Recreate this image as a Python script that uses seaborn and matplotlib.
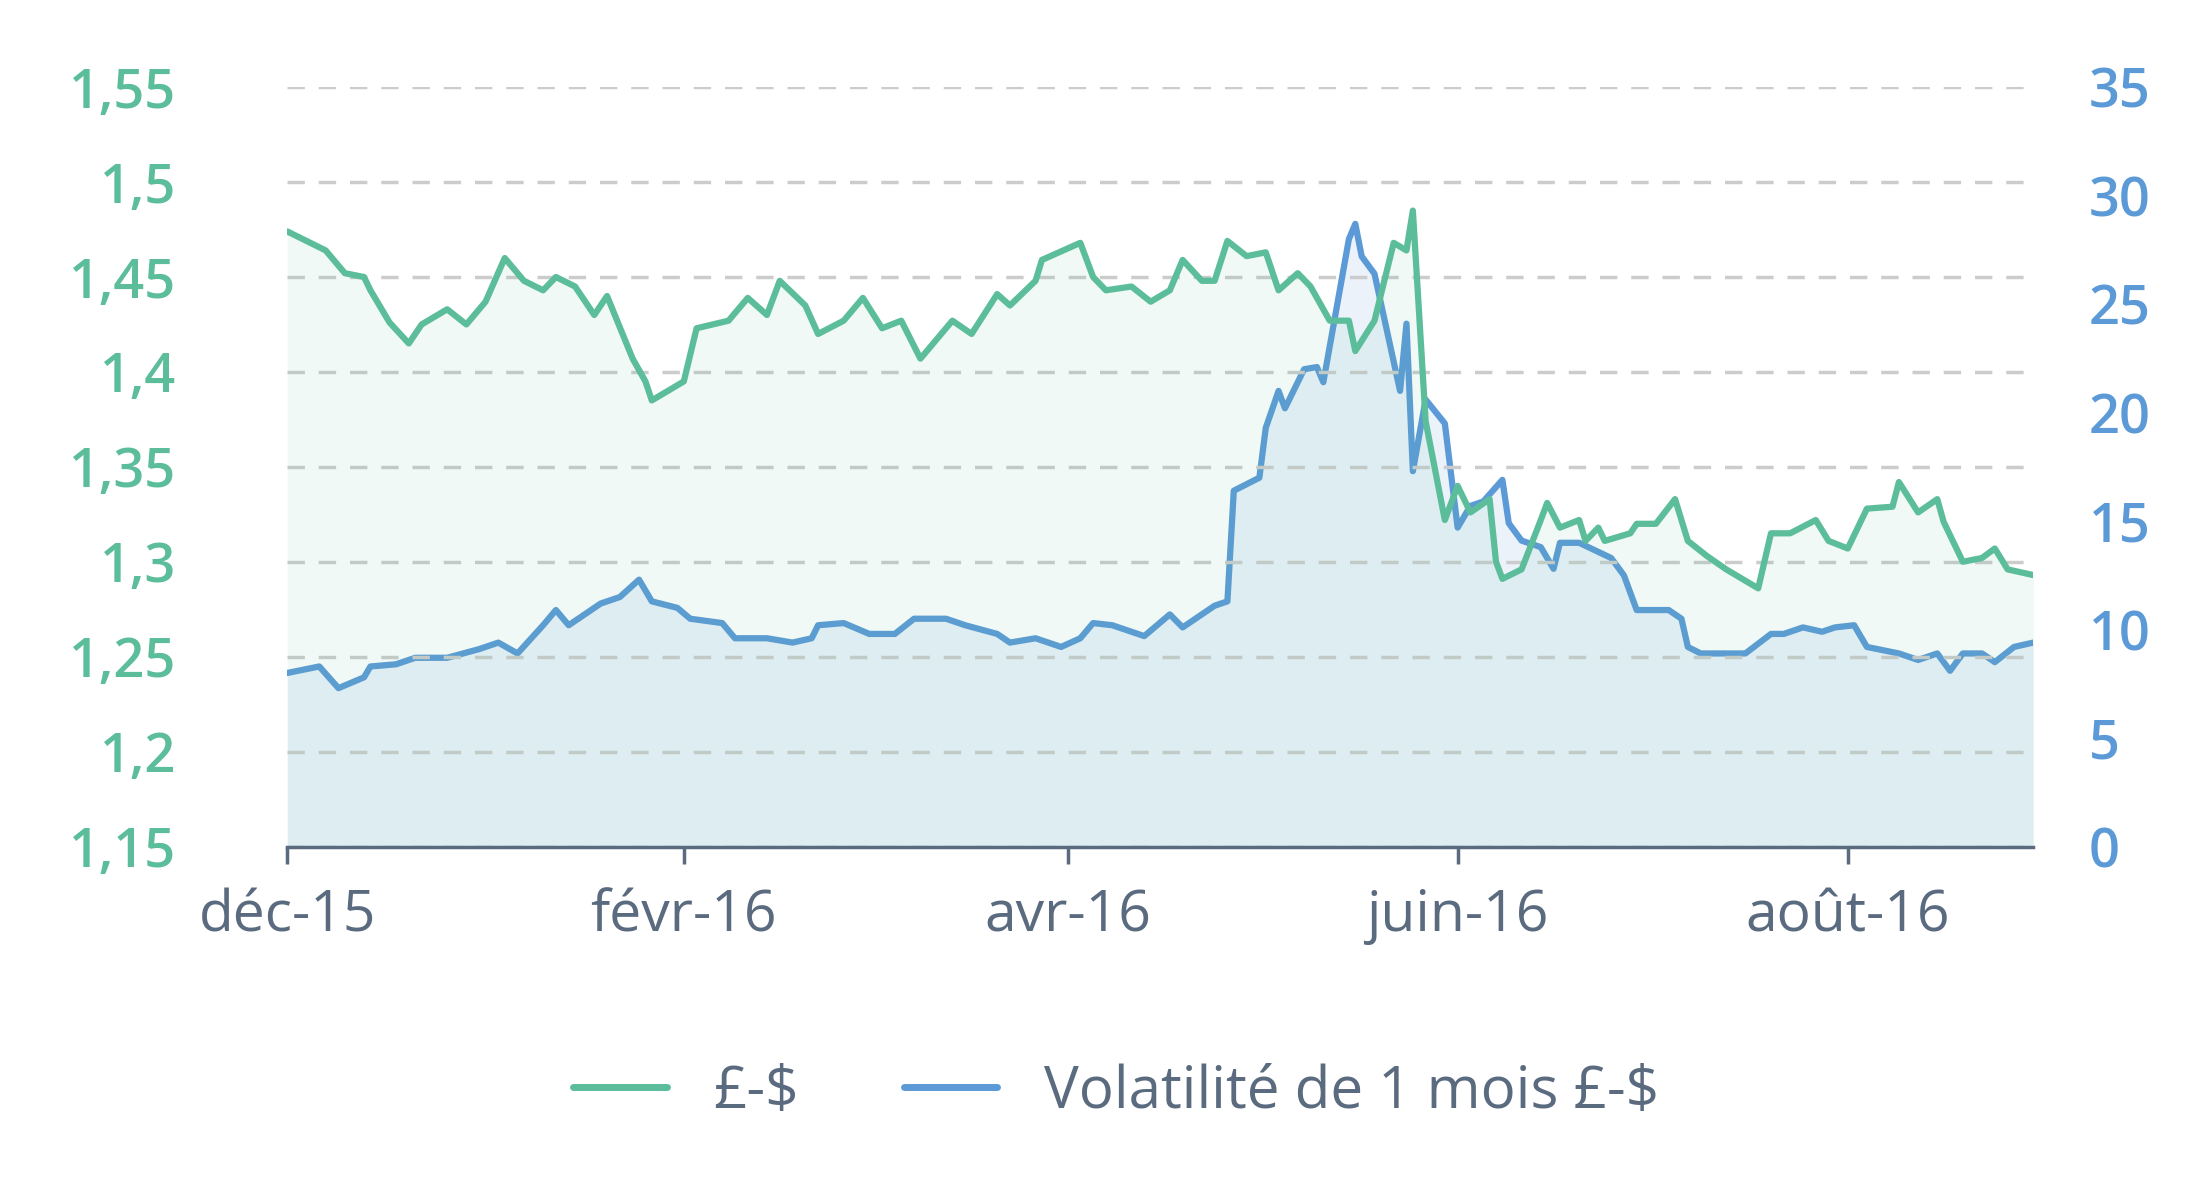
import pandas as pd
import numpy as np
import matplotlib
matplotlib.use("Agg")
import matplotlib.pyplot as plt
import seaborn as sns

start = pd.Timestamp("2015-12-01")
gbp_days = [0,6,9,12,13,16,19,21,25,28,31,34,37,40,42,45,48,50,54,56,57,62,64,69,72,75,77,81,83,87,90,93,96,99,104,107,111,113,117,118,124,126,128,132,135,138,140,143,145,147,150,153,155,158,160,163,166,167,170,173,175,176,178,181,183,185,188,189,190,193,196,197,199,202,203,205,206,210,211,214,217,219,222,225,230,232,235,239,241,244,247,251,252,255,258,259,262,265,267,269,273]
gbp_vals = [1.474,1.464,1.452,1.45,1.443,1.426,1.415,1.425,1.433,1.425,1.437,1.46,1.448,1.443,1.45,1.445,1.43,1.44,1.407,1.395,1.385,1.395,1.423,1.427,1.439,1.43,1.448,1.435,1.42,1.427,1.439,1.423,1.427,1.407,1.427,1.42,1.441,1.435,1.448,1.459,1.468,1.45,1.443,1.445,1.437,1.443,1.459,1.448,1.448,1.469,1.461,1.463,1.443,1.452,1.445,1.427,1.427,1.411,1.427,1.468,1.464,1.485,1.374,1.322,1.34,1.326,1.333,1.300,1.291,1.296,1.322,1.331,1.318,1.322,1.311,1.318,1.311,1.315,1.32,1.32,1.333,1.311,1.303,1.296,1.286,1.315,1.315,1.322,1.311,1.307,1.328,1.329,1.342,1.326,1.333,1.321,1.3,1.302,1.307,1.296,1.293]
vol_days = [0,5,8,12,13,17,20,25,30,33,36,40,42,44,49,52,55,57,61,63,68,70,75,79,82,83,87,91,95,98,103,106,111,113,117,121,124,126,129,134,138,140,145,147,148,152,153,155,156,159,161,162,166,167,168,170,174,175,176,178,181,183,185,187,190,191,193,196,198,199,202,207,209,211,216,218,219,221,228,232,234,237,240,242,245,247,252,255,258,260,262,265,267,270,273]
vol_vals = [8.0,8.3,7.3,7.8,8.3,8.4,8.7,8.7,9.1,9.4,8.9,10.2,10.9,10.2,11.2,11.5,12.3,11.3,11.0,10.5,10.3,9.6,9.6,9.4,9.6,10.2,10.3,9.8,9.8,10.5,10.5,10.2,9.8,9.4,9.6,9.2,9.6,10.3,10.2,9.7,10.7,10.1,11.1,11.3,16.4,17.0,19.3,21.0,20.2,22.0,22.1,21.4,28.0,28.7,27.2,26.4,21.0,24.1,17.3,20.6,19.5,14.7,15.7,15.9,16.9,14.9,14.1,13.8,12.8,14.0,14.0,13.3,12.5,10.9,10.9,10.5,9.2,8.9,8.9,9.8,9.8,10.1,9.9,10.1,10.2,9.2,8.9,8.6,8.9,8.1,8.9,8.9,8.5,9.2,9.4]
x_ticks = ["2015-12-01","2016-02-01","2016-04-01","2016-06-01","2016-08-01"]
x_labels = ["déc-15","févr-16","avr-16","juin-16","août-16"]
left_ticks = [1.15,1.2,1.25,1.3,1.35,1.4,1.45,1.5,1.55]
right_ticks = [0,5,10,15,20,25,30,35]

gbp = pd.DataFrame({"date": start + pd.to_timedelta(gbp_days, unit="D"), "v": gbp_vals})
vol = pd.DataFrame({"date": start + pd.to_timedelta(vol_days, unit="D"), "v": vol_vals})

sns.set_style("white")
plt.rcParams["font.family"] = ["Open Sans", "DejaVu Sans"]
GREEN = "#5cbd9b"; BLUE = "#5b9ad6"; TXT = "#5a6b80"

fig = plt.figure(figsize=(22.1, 11.94), dpi=100)
ax = fig.add_axes([0.130, 0.291, 0.790, 0.636])
ax2 = ax.twinx()

ax.fill_between(gbp["date"], gbp["v"], 1.15, color=GREEN, alpha=0.09, lw=0)
sns.lineplot(data=gbp, x="date", y="v", ax=ax, color=GREEN, lw=4.5, label="£-$", legend=False)
ax2.fill_between(vol["date"], vol["v"], 0, color=BLUE, alpha=0.12, lw=0)
sns.lineplot(data=vol, x="date", y="v", ax=ax2, color=BLUE, lw=4.5, label="Volatilité de 1 mois £-$", legend=False)

ax.set_ylim(1.15, 1.55); ax2.set_ylim(0, 35)
ax.set_xlim(start, start + pd.Timedelta(days=273))
ax.set_yticks(left_ticks)
ax.set_yticklabels([f"{v:g}".replace(".", ",") for v in left_ticks], color=GREEN, fontsize=39, fontweight="semibold")
ax2.set_yticks(right_ticks)
ax2.set_yticklabels([str(v) for v in right_ticks], color=BLUE, fontsize=39, fontweight="semibold")
ax.set_xticks(pd.to_datetime(x_ticks))
ax.set_xticklabels(x_labels, color=TXT, fontsize=41)
ax.set_xlabel(""); ax.set_ylabel(""); ax2.set_xlabel(""); ax2.set_ylabel("")
ax.grid(axis="y", ls=(0, (5, 4)), color="#cccccc", lw=2.5)
ax.grid(axis="x", visible=False)
for a in (ax, ax2):
    for s in ("top", "left", "right", "bottom"):
        a.spines[s].set_visible(False)
ax.spines["bottom"].set_visible(True)
ax.spines["bottom"].set_color(TXT); ax.spines["bottom"].set_linewidth(2.5)
ax.tick_params(axis="x", length=12, width=2.5, color=TXT, pad=18, direction="out", bottom=True)
ax.tick_params(axis="y", length=0, pad=80)
ax2.tick_params(axis="y", length=0, pad=40)
ax.set_zorder(ax2.get_zorder() + 1); ax.patch.set_visible(False)

h1, l1 = ax.get_legend_handles_labels(); h2, l2 = ax2.get_legend_handles_labels()
leg = fig.legend(h1 + h2, l1 + l2, loc="center", bbox_to_anchor=(0.505, 0.085), ncol=2, frameon=False,
                 fontsize=42, handlelength=1.6, handletextpad=0.8, columnspacing=1.8, labelcolor=TXT)
for line in leg.get_lines():
    line.set_linewidth(5)
fig.savefig("out.png", dpi=100)
